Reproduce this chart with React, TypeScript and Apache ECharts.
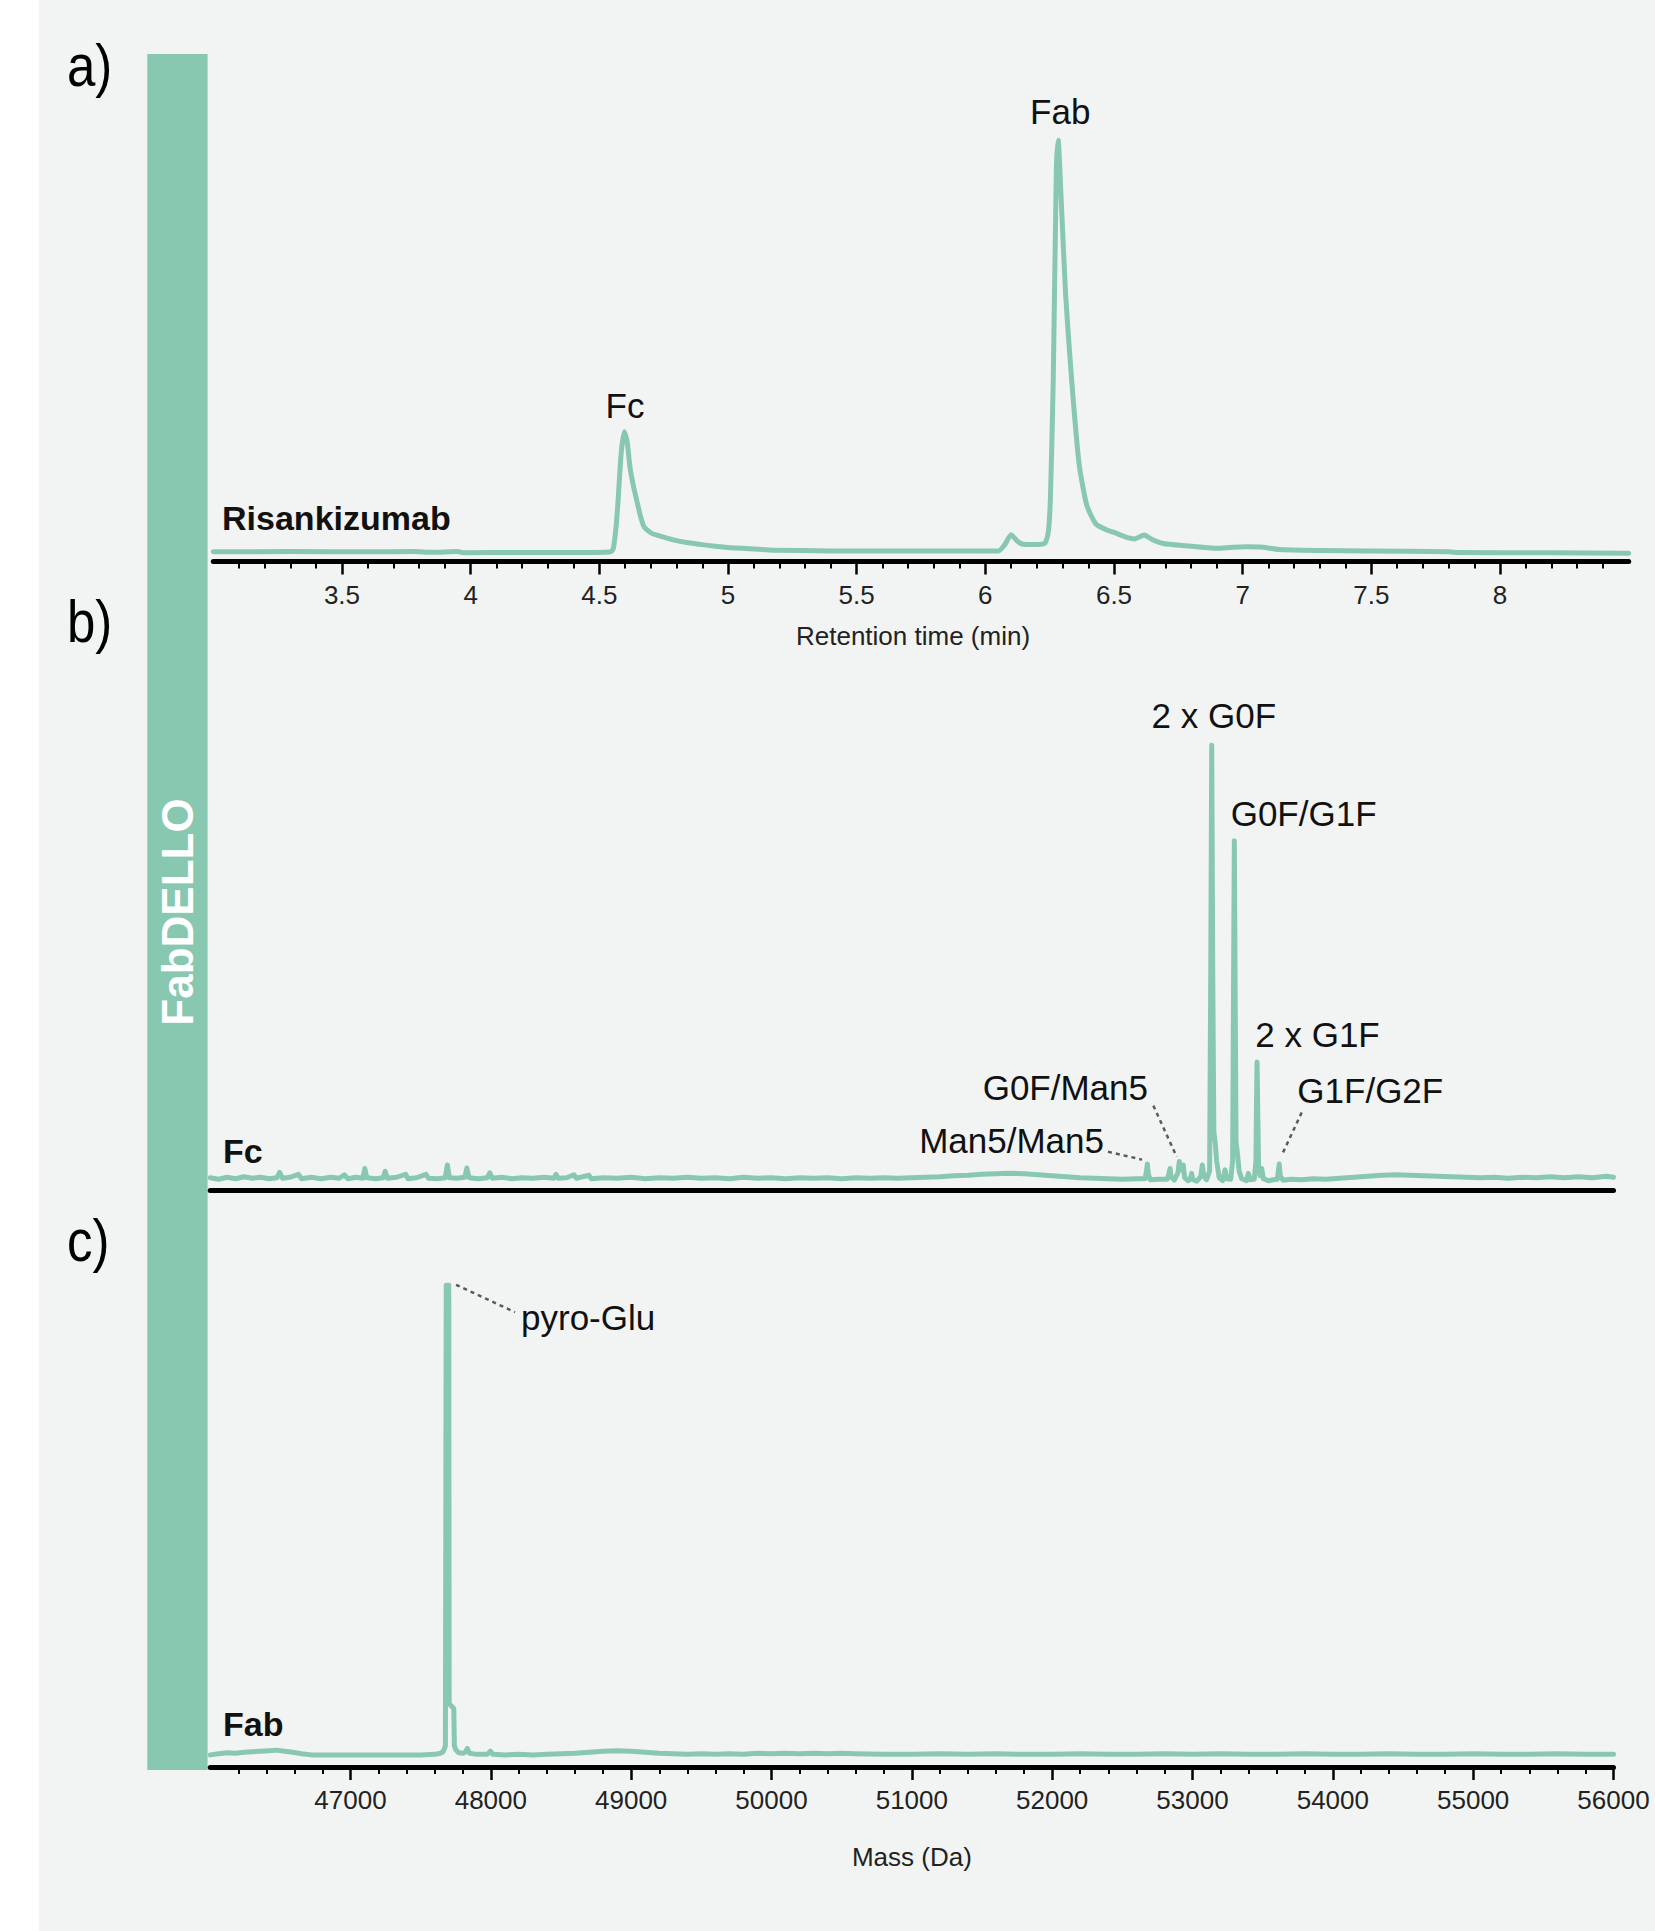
import React, { useEffect, useRef } from "react";
import * as echarts from "echarts";

// ---------- tick values ----------
const timeTicks = [3.5, 4, 4.5, 5, 5.5, 6, 6.5, 7, 7.5, 8];
const massTicks = [47000, 48000, 49000, 50000, 51000, 52000, 53000, 54000, 55000, 56000];

// ---------- a) chromatogram: [retention time (min), intensity] ----------
const risankizumabTrace: [number, number][] = [
  [3.0, 2.1], [3.3, 2.15], [3.6, 2.1], [3.78, 2.15], [3.85, 2.0], [3.95, 2.15], [3.97, 1.9],
  [4.2, 1.95], [4.45, 1.95], [4.545, 2.1], [4.555, 3.0], [4.565, 7.5], [4.573, 13.3],
  [4.585, 23.5], [4.597, 28.1], [4.608, 26.0], [4.619, 20.5], [4.632, 16.5], [4.645, 13.3],
  [4.66, 9.8], [4.674, 7.5], [4.704, 6.1], [4.75, 5.3], [4.788, 4.7], [4.84, 4.1], [4.879, 3.8],
  [4.95, 3.3], [5.008, 3.0], [5.1, 2.7], [5.175, 2.45], [5.4, 2.3], [5.6, 2.25], [6.05, 2.25],
  [6.075, 3.6], [6.1, 5.8], [6.125, 4.4], [6.146, 3.75], [6.2, 3.7], [6.232, 4.0], [6.245, 6.5],
  [6.253, 14], [6.264, 39.5], [6.276, 85.2], [6.283, 91.3], [6.293, 80.6], [6.312, 57.8],
  [6.335, 39.6], [6.364, 21.3], [6.394, 12.2], [6.43, 8.1], [6.47, 6.9], [6.5, 6.3], [6.546, 5.3],
  [6.58, 4.9], [6.617, 5.75], [6.65, 4.7], [6.69, 3.9], [6.78, 3.4], [6.9, 2.85], [6.96, 3.1],
  [7.02, 3.2], [7.08, 3.1], [7.14, 2.6], [7.3, 2.4], [7.49, 2.3], [7.8, 2.1], [7.84, 1.95],
  [8.2, 1.9], [8.5, 1.8],
];

// ---------- b) Fc deconvoluted mass spectrum: [mass (Da), intensity] ----------
const fcSpectrum: [number, number][] = [
  [46000, 2.6], [46060, 2.3], [46120, 2.7], [46180, 2.4], [46240, 2.8], [46300, 2.5], [46360, 2.7],
  [46420, 2.4], [46475, 2.6], [46495, 3.7], [46515, 2.5], [46570, 2.7], [46629, 3.3], [46650, 2.4],
  [46720, 2.7], [46790, 2.4], [46860, 2.7], [46920, 2.5], [46956, 3.2], [46980, 2.4], [47040, 2.7],
  [47088, 2.5], [47102, 4.5], [47116, 2.6], [47180, 2.4], [47232, 2.6], [47247, 3.9], [47262, 2.5],
  [47330, 2.7], [47392, 3.3], [47410, 2.4], [47470, 2.6], [47538, 3.3], [47555, 2.5], [47620, 2.4],
  [47675, 2.6], [47690, 5.2], [47705, 2.6], [47760, 2.5], [47815, 2.7], [47829, 4.6], [47845, 2.6],
  [47910, 2.4], [47975, 2.6], [47992, 3.6], [48010, 2.5], [48080, 2.7], [48150, 2.4], [48220, 2.6],
  [48300, 2.5], [48380, 2.7], [48450, 2.5], [48464, 3.3], [48480, 2.5], [48540, 2.6], [48592, 3.2],
  [48610, 2.5], [48699, 3.1], [48715, 2.4], [48800, 2.6], [48900, 2.5], [49000, 2.7], [49100, 2.4],
  [49200, 2.6], [49300, 2.5], [49400, 2.7], [49500, 2.5], [49600, 2.6], [49700, 2.4], [49800, 2.7],
  [49900, 2.5], [50000, 2.6], [50100, 2.4], [50200, 2.6], [50300, 2.5], [50400, 2.6], [50500, 2.4],
  [50600, 2.6], [50700, 2.5], [50800, 2.6], [50900, 2.5], [51000, 2.6], [51100, 2.7], [51200, 2.8],
  [51300, 3.0], [51400, 3.1], [51500, 3.3], [51600, 3.4], [51700, 3.5], [51800, 3.4], [51900, 3.2],
  [52000, 3.0], [52100, 2.8], [52200, 2.6], [52300, 2.5], [52400, 2.4], [52500, 2.3], [52600, 2.4],
  [52662, 2.4], [52672, 4.0], [52678, 5.4], [52686, 3.2], [52700, 2.2], [52760, 2.3], [52820, 2.3],
  [52832, 3.4], [52840, 4.5], [52848, 2.8], [52870, 2.1], [52896, 3.6], [52906, 5.9], [52918, 4.2],
  [52934, 5.2], [52944, 2.6], [52970, 2.0], [52986, 2.6], [52994, 3.5], [53002, 2.2], [53030, 1.9],
  [53058, 2.8], [53070, 5.2], [53080, 3.0], [53100, 2.2], [53122, 4.0], [53130, 45], [53137, 90.8],
  [53144, 45], [53152, 12], [53162, 9.6], [53172, 6.0], [53190, 2.6], [53215, 2.0], [53232, 4.2],
  [53245, 2.4], [53272, 2.3], [53286, 6.0], [53293, 45], [53298, 71.3], [53304, 40], [53310, 10],
  [53320, 7.6], [53332, 4.0], [53350, 2.4], [53385, 2.0], [53398, 3.5], [53410, 2.2], [53440, 2.3],
  [53452, 6.0], [53456, 18], [53460, 26.2], [53465, 16], [53471, 5.0], [53482, 3.0], [53493, 4.5],
  [53505, 2.4], [53540, 2.0], [53575, 2.2], [53605, 2.3], [53612, 4.0], [53618, 5.4], [53625, 3.0],
  [53645, 2.1], [53700, 2.3], [53780, 2.2], [53860, 2.4], [53950, 2.3], [54050, 2.5], [54150, 2.7],
  [54250, 2.9], [54350, 3.1], [54450, 3.2], [54550, 3.1], [54650, 3.0], [54750, 2.9], [54850, 2.8],
  [54950, 2.7], [55050, 2.6], [55150, 2.7], [55250, 2.5], [55350, 2.7], [55450, 2.6], [55550, 2.8],
  [55650, 2.6], [55750, 2.8], [55850, 2.6], [55950, 2.9], [56000, 2.7],
];

// ---------- c) Fab deconvoluted mass spectrum: [mass (Da), intensity] ----------
const fabSpectrum: [number, number][] = [
  [46000, 2.3], [46060, 2.5], [46120, 2.7], [46180, 2.6], [46240, 2.8], [46300, 2.9], [46360, 3.0],
  [46420, 3.1], [46470, 3.2], [46530, 3.0], [46590, 2.8], [46650, 2.5], [46720, 2.3], [46800, 2.3],
  [46900, 2.3], [47000, 2.3], [47100, 2.3], [47200, 2.3], [47300, 2.3], [47400, 2.3], [47500, 2.3],
  [47600, 2.4], [47640, 2.6], [47660, 2.9], [47676, 4.0], [47682, 91.4], [47700, 91.4], [47703, 12],
  [47736, 11.1], [47740, 4.0], [47750, 3.3], [47770, 2.7], [47800, 2.6], [47818, 2.8], [47832, 3.5],
  [47848, 2.6], [47900, 2.4], [47975, 2.4], [47996, 3.0], [48015, 2.4], [48100, 2.3], [48200, 2.4],
  [48300, 2.3], [48400, 2.4], [48500, 2.5], [48600, 2.6], [48700, 2.8], [48800, 3.0], [48900, 3.1],
  [49000, 3.0], [49100, 2.8], [49200, 2.6], [49300, 2.5], [49400, 2.4], [49500, 2.5], [49600, 2.4],
  [49700, 2.5], [49800, 2.4], [49900, 2.6], [50000, 2.5], [50100, 2.6], [50200, 2.5], [50300, 2.6],
  [50400, 2.5], [50500, 2.6], [50600, 2.5], [50800, 2.4], [51000, 2.4], [51200, 2.5], [51400, 2.4],
  [51600, 2.5], [51800, 2.4], [52000, 2.4], [52200, 2.5], [52400, 2.4], [52600, 2.4], [52800, 2.5],
  [53000, 2.4], [53200, 2.5], [53400, 2.4], [53600, 2.4], [53800, 2.5], [54000, 2.4], [54200, 2.4],
  [54400, 2.5], [54600, 2.4], [54800, 2.4], [55000, 2.5], [55200, 2.4], [55400, 2.4], [55600, 2.5],
  [55800, 2.4], [56000, 2.4],
];

// ---------- annotations (anchored in data coordinates) ----------
type Note = { text: string; at: [number, number]; align: "left" | "center" | "right"; bold?: boolean };
const chromNotes: Note[] = [
  { text: "Risankizumab", at: [3.034, 9.5], align: "left", bold: true },
  { text: "Fc", at: [4.6, 33.9], align: "center" },
  { text: "Fab", at: [6.291, 97.6], align: "center" },
];
const fcNotes: Note[] = [
  { text: "Fc", at: [46091, 8.1], align: "left", bold: true },
  { text: "2 x G0F", at: [53152, 96.9], align: "center" },
  { text: "G0F/G1F", at: [53272, 76.8], align: "left" },
  { text: "2 x G1F", at: [53447, 31.9], align: "left" },
  { text: "G0F/Man5", at: [52683, 21.1], align: "right" },
  { text: "Man5/Man5", at: [52369, 10.2], align: "right" },
  { text: "G1F/G2F", at: [53747, 20.3], align: "left" },
];
const fabNotes: Note[] = [
  { text: "Fab", at: [46091, 8.2], align: "left", bold: true },
  { text: "pyro-Glu", at: [48215, 85.2], align: "left" },
];
const fcLeaders: [number, number][][] = [
  [[52398, 7.9], [52640, 6.3]],
  [[52721, 17.3], [52887, 6.9]],
  [[53778, 15.9], [53636, 7.2]],
];
const fabLeaders: [number, number][][] = [[[47752, 91.5], [48172, 86.3]]];

const FONT = '"Liberation Sans", Arial, Helvetica, sans-serif';
const GREEN = "#88c8b1";

export default function App() {
  const ref = useRef<HTMLDivElement>(null);

  useEffect(() => {
    document.body.style.margin = "0";
    const chart = echarts.init(ref.current!, null, { renderer: "svg" });

    const grids = [
      { left: 213.3, top: 100, width: 1415.4, height: 461.5, outerBoundsMode: "none" },
      { left: 210.2, top: 700, width: 1403.3, height: 490.5, outerBoundsMode: "none" },
      { left: 210.2, top: 1240, width: 1403.3, height: 527, outerBoundsMode: "none" },
    ];

    const axisLine = { show: true, onZero: false, lineStyle: { color: "#000", width: 5 } };
    const tickStyle = { color: "#000", width: 2.5 };
    const minorStyle = { color: "#000", width: 2 };
    const labelStyle = { fontSize: 26, color: "#222", fontFamily: FONT, margin: 20 };

    const xAxis: any[] = [
      {
        type: "value", gridIndex: 0, min: 3, max: 8.5, interval: 0.5,
        axisLine,
        axisTick: { show: true, length: 13, lineStyle: tickStyle, customValues: timeTicks },
        minorTick: { show: true, splitNumber: 5, length: 7, lineStyle: minorStyle },
        axisLabel: {
          ...labelStyle, customValues: timeTicks,
          formatter: (v: number) => (v <= 3 || v >= 8.5 ? "" : String(v)),
        },
        splitLine: { show: false }, minorSplitLine: { show: false },
        name: "Retention time (min)", nameLocation: "middle", nameGap: 61,
        nameTextStyle: { fontSize: 26, color: "#222", fontFamily: FONT, padding: [0, 16, 0, 0] },
      },
      {
        type: "value", gridIndex: 1, min: 46000, max: 56000, interval: 1000,
        axisLine, axisTick: { show: false }, axisLabel: { show: false },
        splitLine: { show: false },
      },
      {
        type: "value", gridIndex: 2, min: 46000, max: 56000, interval: 1000,
        axisLine,
        axisTick: { show: true, length: 13, lineStyle: tickStyle, customValues: massTicks },
        minorTick: { show: true, splitNumber: 5, length: 7, lineStyle: minorStyle },
        axisLabel: {
          ...labelStyle, customValues: massTicks,
          formatter: (v: number) => (v <= 46000 ? "" : String(v)),
        },
        splitLine: { show: false }, minorSplitLine: { show: false },
        name: "Mass (Da)", nameLocation: "middle", nameGap: 77,
        nameTextStyle: { fontSize: 26, color: "#222", fontFamily: FONT },
      },
    ];
    const yAxis = [0, 1, 2].map((i) => ({ type: "value", gridIndex: i, min: 0, max: 100, show: false }));

    const line = (data: [number, number][], i: number, smooth: number | boolean) => ({
      type: "line", xAxisIndex: i, yAxisIndex: i, data, symbol: "none", showSymbol: false,
      smooth, silent: true, z: 3,
      lineStyle: { color: GREEN, width: 5, join: "round", cap: "round" },
    });

    chart.setOption({
      animation: false,
      backgroundColor: "transparent",
      grid: grids,
      xAxis, yAxis,
      series: [line(risankizumabTrace, 0, 0.2), line(fcSpectrum, 1, false), line(fabSpectrum, 2, false)],
    });

    const px = (g: number, p: [number, number]) => chart.convertToPixel({ gridIndex: g }, p) as number[];

    const elements: any[] = [
      { type: "rect", shape: { x: 147.3, y: 54, width: 60.3, height: 1716 }, style: { fill: GREEN }, silent: true },
      {
        type: "text", x: 177, y: 912, rotation: Math.PI / 2, silent: true,
        style: {
          text: "FabDELLO", fontSize: 44, fontWeight: "bold", fontFamily: FONT, fill: "#ffffff",
          align: "center", verticalAlign: "middle", textAlign: "center", textVerticalAlign: "middle",
        },
      },
    ];
    [["a)", 66], ["b)", 622], ["c)", 1241]].forEach(([t, y]) => {
      elements.push({
        type: "text", x: 67, y, scaleX: 0.85, silent: true,
        style: {
          text: t, fontSize: 60, fontFamily: FONT, fill: "#000",
          align: "left", verticalAlign: "middle", textAlign: "left", textVerticalAlign: "middle",
        },
      });
    });

    const addNotes = (notes: Note[], g: number) => {
      notes.forEach((n) => {
        const p = px(g, n.at);
        elements.push({
          type: "text", x: p[0], y: p[1], silent: true, z: 5,
          style: {
            text: n.text, fontSize: n.bold ? 34 : 35, fontWeight: n.bold ? "bold" : "normal",
            fontFamily: FONT, fill: "#111",
            align: n.align, verticalAlign: "middle", textAlign: n.align, textVerticalAlign: "middle",
          },
        });
      });
    };
    const addLeaders = (leaders: [number, number][][], g: number) => {
      leaders.forEach((l) => {
        const a = px(g, l[0]);
        const b = px(g, l[1]);
        elements.push({
          type: "line", silent: true, z: 5,
          shape: { x1: a[0], y1: a[1], x2: b[0], y2: b[1] },
          style: { stroke: "#5a5a5a", lineWidth: 2.5, lineDash: [4, 4] },
        });
      });
    };
    addNotes(chromNotes, 0);
    addNotes(fcNotes, 1);
    addNotes(fabNotes, 2);
    addLeaders(fcLeaders, 1);
    addLeaders(fabLeaders, 2);

    chart.setOption({ graphic: { elements } });

    return () => chart.dispose();
  }, []);

  return (
    <div
      ref={ref}
      style={{
        width: 1655,
        height: 1931,
        background: "linear-gradient(to right, #ffffff 0px, #ffffff 39px, #f2f4f3 39px, #f2f4f3 100%)",
      }}
    />
  );
}
